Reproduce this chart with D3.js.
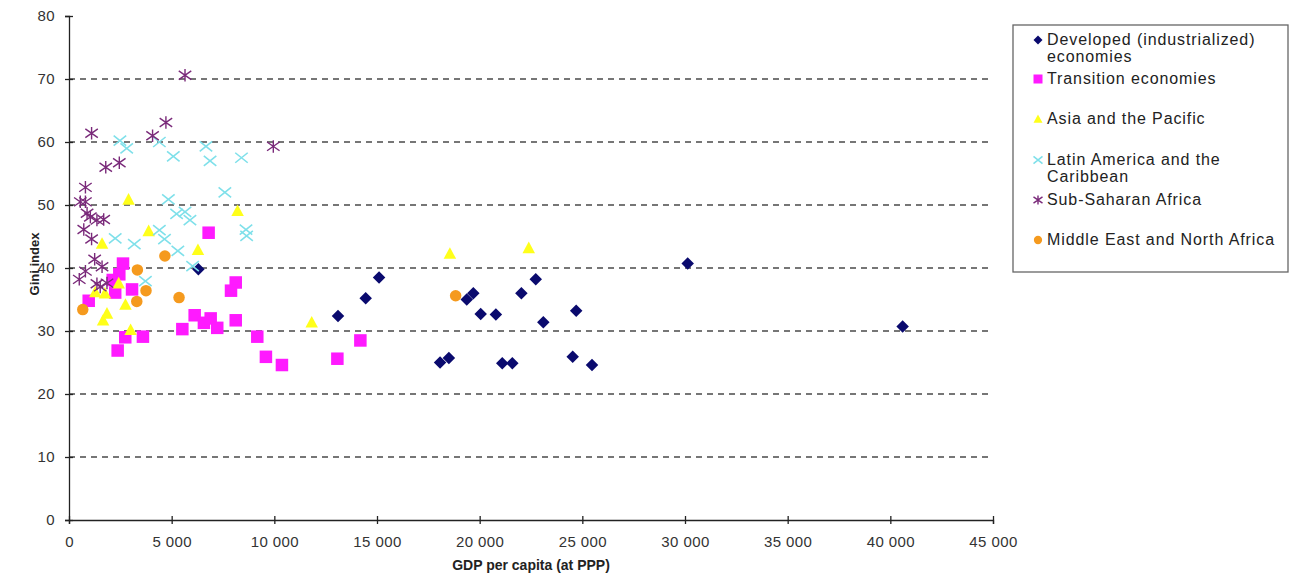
<!DOCTYPE html>
<html>
<head>
<meta charset="utf-8">
<script src="https://cdn.jsdelivr.net/npm/d3@7"></script>
<style>
  body { margin: 0; background: #fff; }
  svg text { font-family: "Liberation Sans", Arial, sans-serif; }
</style>
</head>
<body>
<svg id="chart" width="1292" height="574"></svg>
<script>
// GDP per capita (PPP) vs Gini index
const developed = [[6300,39.8],[13100,32.4],[14450,35.2],[15100,38.5],[18070,25.0],[18500,25.7],[19370,35.0],[19690,36.0],[20050,32.7],[20790,32.6],[21100,24.9],[21590,24.9],[22030,36.0],[22730,38.2],[23100,31.4],[24530,25.9],[24700,33.2],[25470,24.6],[30130,40.7],[40600,30.7]];
const transition = [[6800,45.6],[8120,37.7],[7890,36.4],[6120,32.5],[6570,31.3],[6900,32.0],[7220,30.5],[8120,31.7],[5520,30.3],[9170,29.1],[9590,25.9],[10370,24.6],[13070,25.6],[14190,28.5],[2630,40.7],[2450,39.0],[2130,38.1],[2250,36.1],[3070,36.6],[960,34.8],[2740,29.0],[3600,29.1],[2370,26.9]];
const asia = [[1610,43.9],[2900,50.9],[3880,45.9],[6280,42.9],[8210,49.1],[2420,37.6],[1280,36.2],[1750,36.0],[2750,34.2],[1850,32.8],[1660,31.7],[3000,30.2],[11820,31.4],[18550,42.3],[22390,43.2]];
const latin = [[2480,60.2],[2810,59.0],[4400,60.0],[5080,57.7],[6670,59.3],[6870,57.0],[8400,57.5],[7590,52.0],[4840,50.9],[5240,48.6],[5650,48.9],[5890,47.6],[8620,46.1],[8650,45.1],[4400,46.0],[4650,44.6],[2250,44.7],[3180,43.8],[5300,42.7],[3720,37.9],[6020,40.3]];
const subSaharan = [[5650,70.6],[1100,61.4],[4720,63.1],[4070,61.0],[9950,59.3],[1790,56.0],[2450,56.7],[800,52.8],[550,50.5],[800,50.5],[880,48.7],[1040,48.1],[1360,47.6],[1690,47.7],[720,46.1],[1100,44.6],[1250,41.4],[800,39.5],[500,38.2],[1360,37.5],[1520,37.0],[1850,37.6],[1610,40.2]];
const middleEast = [[4670,41.9],[3330,39.7],[3750,36.4],[3300,34.7],[5360,35.3],[670,33.4],[18830,35.6]];

const seriesNames = ["Developed (industrialized)\neconomies", "Transition economies", "Asia and the Pacific", "Latin America and the\nCaribbean", "Sub-Saharan Africa", "Middle East and North Africa"];
const seriesData = [developed, transition, asia, latin, subSaharan, middleEast];
const seriesKinds = ["diamond", "square", "triangle", "cross", "asterisk", "circle"];
const seriesColors = ["#0a0a6e", "#ff1aff", "#ffff1a", "#7fe0ea", "#7a2a7a", "#f59a1e"];

const xTicks = d3.range(0, 45001, 5000);
const yTicks = d3.range(0, 81, 10);

const svg = d3.select("#chart");
const x = d3.scaleLinear().domain([0, 45000]).range([69, 993]);
const y = d3.scaleLinear().domain([0, 80]).range([520, 16]);

const loc = d3.formatLocale({ decimal: ".", thousands: " ", grouping: [3], currency: ["", ""] });
const fmt = loc.format(",");

// dashed gridlines
svg.append("g").selectAll("line")
  .data(yTicks.filter(d => d > 0 && d < 80))
  .join("line")
  .attr("x1", x(0)).attr("x2", x(45000))
  .attr("y1", d => y(d)).attr("y2", d => y(d))
  .attr("stroke", "#4a4a4a").attr("stroke-width", 1.3)
  .attr("stroke-dasharray", "6,5");

// axes
const yAxis = svg.append("g").attr("transform", `translate(${x(0)},0)`)
  .call(d3.axisLeft(y).tickValues(yTicks).tickSize(4).tickPadding(10));
const xAxis = svg.append("g").attr("transform", `translate(0,${y(0)})`)
  .call(d3.axisBottom(x).tickValues(xTicks).tickFormat(fmt).tickSize(4).tickPadding(12));
[yAxis, xAxis].forEach(a => {
  a.select(".domain").attr("stroke", "#222").attr("stroke-width", 1.3);
  a.selectAll(".tick text").attr("font-size", 15).attr("fill", "#333")
    .attr("letter-spacing", 0.4)
    .attr("font-family", "Liberation Sans, Arial, sans-serif");
  a.selectAll(".tick line").attr("stroke", "#222").attr("stroke-width", 1.3);
});
// ticks cross the axis line
yAxis.selectAll(".tick line").attr("x1", 4);
xAxis.selectAll(".tick line").attr("y1", -4);

// axis titles
svg.append("text")
  .attr("transform", `translate(39,${(y(0) + y(80)) / 2 - 4}) rotate(-90)`)
  .attr("text-anchor", "middle").attr("font-size", 13).attr("font-weight", "bold")
  .attr("fill", "#222").text("Gini index");
svg.append("text")
  .attr("x", (x(0) + x(45000)) / 2).attr("y", 570)
  .attr("text-anchor", "middle").attr("font-size", 14).attr("font-weight", "bold")
  .attr("fill", "#222").text("GDP per capita (at PPP)");

// marker drawing
function drawMarker(g, kind, color, s) {
  const h = s / 2;
  if (kind === "diamond") {
    g.append("path").attr("d", `M0,${-h}L${h},0L0,${h}L${-h},0Z`).attr("fill", color);
  } else if (kind === "square") {
    g.append("rect").attr("x", -h).attr("y", -h).attr("width", s).attr("height", s).attr("fill", color);
  } else if (kind === "triangle") {
    g.append("path").attr("d", `M0,${-h}L${h},${h * 0.85}L${-h},${h * 0.85}Z`).attr("fill", color);
  } else if (kind === "circle") {
    g.append("circle").attr("r", h * 0.92).attr("fill", color);
  } else if (kind === "cross") {
    g.append("path").attr("d", `M${-h},${-h * 0.8}L${h},${h * 0.8}M${-h},${h * 0.8}L${h},${-h * 0.8}`)
      .attr("stroke", color).attr("stroke-width", 1.6).attr("fill", "none");
  } else if (kind === "asterisk") {
    g.append("path").attr("d", `M${-h},${-h * 0.7}L${h},${h * 0.7}M${-h},${h * 0.7}L${h},${-h * 0.7}M0,${-h}L0,${h}`)
      .attr("stroke", color).attr("stroke-width", 1.4).attr("fill", "none");
  }
}

// points
seriesData.forEach((data, i) => {
  const layer = svg.append("g").attr("class", "series");
  data.forEach(d => {
    const g = layer.append("g").attr("transform", `translate(${x(d[0])},${y(d[1])})`);
    drawMarker(g, seriesKinds[i], seriesColors[i], 12.5);
  });
});

// legend
const legend = svg.append("g");
legend.append("rect")
  .attr("x", 1013).attr("y", 25).attr("width", 275).attr("height", 247)
  .attr("fill", "#fff").attr("stroke", "#666").attr("stroke-width", 1.3);
const legendY = [40, 79, 119, 160, 200, 240];
seriesNames.forEach((name, i) => {
  const g = legend.append("g").attr("transform", `translate(1038,${legendY[i]})`);
  drawMarker(g, seriesKinds[i], seriesColors[i], 9);
  const t = legend.append("text").attr("x", 1047).attr("y", legendY[i] + 5)
    .attr("font-size", 16).attr("fill", "#222").attr("letter-spacing", 0.9);
  name.split("\n").forEach((line, j) => {
    t.append("tspan").attr("x", 1047).attr("dy", j === 0 ? 0 : 17).text(line);
  });
});
</script>
</body>
</html>
